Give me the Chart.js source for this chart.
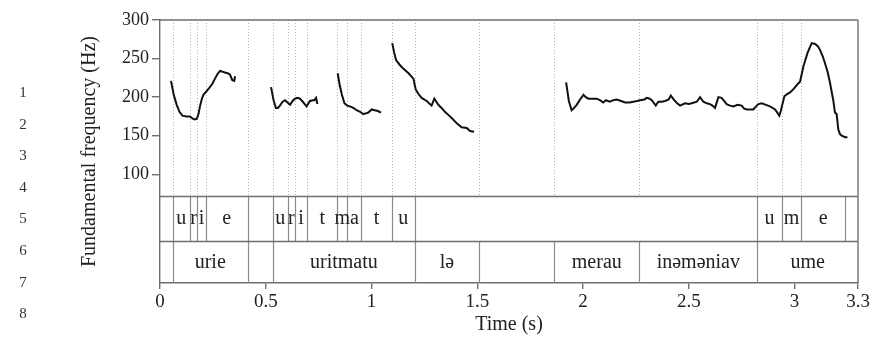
<!DOCTYPE html>
<html>
<head>
<meta charset="utf-8">
<script src="https://cdn.jsdelivr.net/npm/chart.js@4/dist/chart.umd.min.js"></script>
<style>
  html, body { margin: 0; padding: 0; background: #fff; }
  #wrap { position: relative; width: 874px; height: 339px; }
  #f0 { position: absolute; left: 0; top: 0; }
  .ln { position: absolute; left: 16px; width: 14px; text-align: center;
        font: 15px "Liberation Serif", serif; color: #333; line-height: 16px; }
</style>
</head>
<body>
<div id="wrap">
  <canvas id="f0" width="874" height="339"></canvas>
</div>
<script>
// x axis (seconds) and y axis (Hz) ticks
const TIME_TICKS = [0, 0.5, 1, 1.5, 2, 2.5, 3, 3.3];
const HZ_TICKS = [100, 150, 200, 250, 300];

// pitch track, one array pair per voiced stretch
const seg1Time = [0.052, 0.065, 0.079, 0.092, 0.106, 0.125, 0.142, 0.155, 0.165, 0.174, 0.182, 0.189, 0.197, 0.205, 0.218, 0.233, 0.247, 0.260, 0.272, 0.284, 0.296, 0.307, 0.320, 0.331, 0.342, 0.351, 0.355];
const seg1Hz   = [221, 203, 190, 181, 176, 175, 175, 172, 171, 172, 178, 188, 197, 203, 207, 212, 217, 224, 230, 234, 233, 232, 231, 229, 222, 221, 227];

const seg2Time = [0.525, 0.537, 0.548, 0.557, 0.567, 0.580, 0.591, 0.603, 0.615, 0.627, 0.638, 0.650, 0.662, 0.675, 0.693, 0.709, 0.722, 0.730, 0.738, 0.744];
const seg2Hz   = [213, 196, 186, 186, 189, 194, 196, 193, 190, 195, 198, 199, 198, 194, 188, 195, 196, 196, 199, 191];

const seg3Time = [0.840, 0.850, 0.860, 0.872, 0.885, 0.898, 0.914, 0.930, 0.946, 0.961, 0.975, 0.985, 1.001, 1.015, 1.030, 1.045];
const seg3Hz   = [231, 215, 203, 192, 189, 188, 186, 183, 181, 178, 179, 180, 184, 183, 182, 180];

const seg4Time = [1.098, 1.107, 1.116, 1.133, 1.150, 1.175, 1.198, 1.209, 1.222, 1.237, 1.261, 1.284, 1.297, 1.316, 1.331, 1.347, 1.363, 1.379, 1.403, 1.426, 1.450, 1.466, 1.485];
const seg4Hz   = [270, 258, 248, 242, 237, 231, 224, 210, 204, 199, 195, 189, 198, 190, 186, 181, 177, 173, 166, 161, 160, 156, 155];

const seg5Time = [1.920, 1.933, 1.946, 1.958, 1.970, 1.986, 2.002, 2.013, 2.025, 2.045,
                  2.064, 2.080, 2.095, 2.108, 2.127, 2.143, 2.159, 2.180, 2.199, 2.220,
                  2.238, 2.255, 2.270, 2.290, 2.301, 2.315, 2.325, 2.344, 2.356, 2.372,
                  2.388, 2.405, 2.415, 2.431, 2.445, 2.459, 2.482, 2.500, 2.514, 2.538,
                  2.553, 2.569, 2.585, 2.600, 2.612, 2.624, 2.640, 2.655, 2.667, 2.679,
                  2.695, 2.711, 2.730, 2.750, 2.762, 2.774, 2.790, 2.805, 2.818, 2.829,
                  2.845, 2.865, 2.884, 2.908, 2.928, 2.935, 2.940, 2.952, 2.965, 2.979,
                  2.997, 3.015, 3.026, 3.034, 3.042, 3.061, 3.081, 3.097, 3.110, 3.121,
                  3.133, 3.144, 3.157, 3.168, 3.183, 3.191, 3.199, 3.207, 3.215, 3.223,
                  3.239, 3.250];
const seg5Hz   = [219, 195, 183, 186, 190, 197, 203, 200, 198, 198,
                  198, 196, 193, 196, 194, 196, 197, 195, 193, 193,
                  194, 195, 196, 197, 199, 198, 196, 189, 194, 194,
                  195, 197, 202, 196, 192, 189, 192, 191, 192, 194,
                  200, 194, 192, 191, 189, 186, 200, 199, 195, 191,
                  189, 188, 190, 189, 185, 184, 184, 184, 188, 191,
                  192, 190, 188, 184, 176, 182, 188, 201, 204, 206,
                  211, 217, 220, 230, 240, 257, 270, 269, 266, 261,
                  253, 244, 232, 218, 196, 180, 178, 158, 152, 150,
                  148, 148];

// annotation tiers: boundaries (s) and the label of each interval between them
const PHONE_BOUNDS = [0.06, 0.142, 0.176, 0.216, 0.415, 0.533, 0.604, 0.638, 0.696, 0.838, 0.886, 0.952, 1.095, 1.206, 2.824, 2.94, 3.031, 3.239];
const PHONE_LABELS = ['u', 'r', 'i', 'e', '', 'u', 'r', 'i', 't', 'm', 'a', 't', 'u', '', 'u', 'm', 'e'];
const WORD_BOUNDS = [0.06, 0.415, 0.533, 1.206, 1.508, 1.864, 2.266, 2.824, 3.3];
const WORD_LABELS = ['urie', '', 'uritmatu', 'lə', '', 'merau', 'inəməniav', 'ume'];

const LINE_NUMBERS = ['1', '2', '3', '4', '5', '6', '7', '8'];

// y value where the pitch panel ends and the tiers start
const Y_MIN = -41;
const F0_FLOOR = 72;
const TIER_SPLIT = 14;

const SERIF = '"Liberation Serif", "Times New Roman", serif';
const FRAME = '#6e6e6e';

LINE_NUMBERS.forEach((n, i) => {
  const d = document.createElement('div');
  d.className = 'ln';
  d.textContent = n;
  d.style.top = (84 + i * 31.6) + 'px';
  document.getElementById('wrap').appendChild(d);
});

function toPoints(times, hz) {
  return times.map((t, i) => ({ x: t, y: hz[i] }));
}

const segments = [[seg1Time, seg1Hz], [seg2Time, seg2Hz], [seg3Time, seg3Hz], [seg4Time, seg4Hz], [seg5Time, seg5Hz]];

const guideTimes = [...new Set([...PHONE_BOUNDS.slice(0, -1), ...WORD_BOUNDS.slice(0, -1)])];

function vline(ctx, px, y0, y1) {
  ctx.beginPath();
  ctx.moveTo(px, y0);
  ctx.lineTo(px, y1);
  ctx.stroke();
}

function hline(ctx, x0, x1, py) {
  ctx.beginPath();
  ctx.moveTo(x0, py);
  ctx.lineTo(x1, py);
  ctx.stroke();
}

function drawTier(ctx, x, bounds, labels, top, bottom) {
  ctx.strokeStyle = '#8a8a8a';
  ctx.lineWidth = 1.2;
  bounds.forEach(t => {
    if (t >= x.max) return;
    vline(ctx, Math.round(x.getPixelForValue(t)) + 0.5, top, bottom);
  });
  ctx.fillStyle = '#222';
  ctx.font = '20px ' + SERIF;
  ctx.textAlign = 'center';
  ctx.textBaseline = 'middle';
  labels.forEach((lab, i) => {
    if (!lab) return;
    const cx = (x.getPixelForValue(bounds[i]) + x.getPixelForValue(bounds[i + 1])) / 2;
    ctx.fillText(lab, cx, (top + bottom) / 2);
  });
}

const tierPlugin = {
  id: 'tiers',
  beforeDatasetsDraw(chart) {
    const { ctx, chartArea: a, scales: { x, y } } = chart;
    const floor = y.getPixelForValue(F0_FLOOR);
    ctx.save();
    ctx.strokeStyle = '#b5b5b5';
    ctx.lineWidth = 1;
    ctx.setLineDash([1, 2]);
    guideTimes.forEach(t => vline(ctx, Math.round(x.getPixelForValue(t)) + 0.5, a.top, floor));
    ctx.restore();
  },
  afterDraw(chart) {
    const { ctx, chartArea: a, scales: { x, y } } = chart;
    const floor = Math.round(y.getPixelForValue(F0_FLOOR)) + 0.5;
    const split = Math.round(y.getPixelForValue(TIER_SPLIT)) + 0.5;
    ctx.save();
    drawTier(ctx, x, PHONE_BOUNDS, PHONE_LABELS, floor, split);
    drawTier(ctx, x, WORD_BOUNDS, WORD_LABELS, split, a.bottom);
    ctx.strokeStyle = FRAME;
    ctx.lineWidth = 1.4;
    hline(ctx, a.left, a.right, floor);
    hline(ctx, a.left, a.right, split);
    hline(ctx, a.left, a.right, a.top);
    vline(ctx, a.right, a.top, a.bottom);
    ctx.restore();
  }
};

new Chart(document.getElementById('f0'), {
  type: 'line',
  data: {
    datasets: segments.map(([t, hz]) => ({
      data: toPoints(t, hz),
      borderColor: '#111',
      borderWidth: 2,
      pointRadius: 0,
      tension: 0
    }))
  },
  options: {
    responsive: false,
    animation: false,
    devicePixelRatio: 1,
    layout: { padding: { left: 60, right: 16, top: 20, bottom: 0 } },
    plugins: { legend: { display: false }, tooltip: { enabled: false } },
    scales: {
      x: {
        type: 'linear',
        min: 0,
        max: 3.3,
        afterBuildTicks: s => { s.ticks = TIME_TICKS.map(v => ({ value: v })); },
        afterFit: s => { s.height = 56; },
        ticks: {
          color: '#222',
          padding: 2,
          maxRotation: 0,
          autoSkip: false,
          font: { family: SERIF, size: 19 },
          callback: v => String(v)
        },
        grid: { drawOnChartArea: false, tickLength: 6, color: FRAME, lineWidth: 1.4 },
        border: { color: FRAME, width: 1.4 },
        title: {
          display: true,
          text: 'Time (s)',
          color: '#222',
          font: { family: SERIF, size: 20 },
          padding: { top: 0, bottom: 2 }
        }
      },
      y: {
        min: Y_MIN,
        max: 300,
        afterBuildTicks: s => { s.ticks = HZ_TICKS.map(v => ({ value: v })); },
        afterFit: s => { s.width = 100; },
        ticks: {
          color: '#222',
          padding: 3,
          font: { family: SERIF, size: 18 }
        },
        grid: { drawOnChartArea: false, tickLength: 8, color: FRAME, lineWidth: 1.4 },
        border: { color: FRAME, width: 1.4 },
        title: {
          display: true,
          text: 'Fundamental frequency (Hz)',
          color: '#222',
          font: { family: SERIF, size: 20 },
          padding: { top: 18, bottom: 0 }
        }
      }
    }
  },
  plugins: [tierPlugin]
});
</script>
</body>
</html>
